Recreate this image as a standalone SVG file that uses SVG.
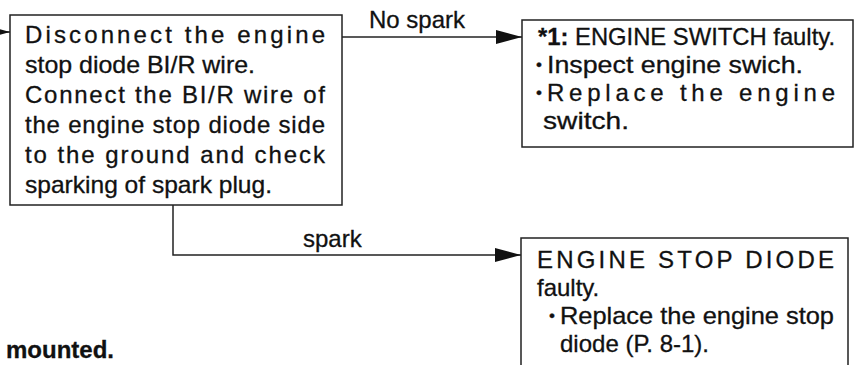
<svg xmlns="http://www.w3.org/2000/svg" width="855" height="365" viewBox="0 0 855 365">
<style>
.box{fill:#fff;stroke:#222;stroke-width:1.5}
.t{font-family:"Liberation Sans",Arial,sans-serif;font-size:24px;fill:#111;stroke:#111;stroke-width:0.3}
.b{font-weight:bold}
.dot{font-size:17px}
.ln{fill:none;stroke:#222;stroke-width:1.5}
</style>
<defs>
<marker id="ah" markerUnits="userSpaceOnUse" markerWidth="26" markerHeight="14" refX="26" refY="7" orient="auto">
<path d="M0,0 L26,7 L0,14 Z" fill="#111"/>
</marker>
</defs>
<rect width="855" height="365" fill="#fff"/>
<g id="connectors">
<line class="ln" x1="-10" y1="32" x2="10" y2="32" marker-end="url(#ah)"/>
<line class="ln" x1="342" y1="37" x2="522" y2="37" marker-end="url(#ah)"/>
<polyline class="ln" points="173,205 173,255 521,255" marker-end="url(#ah)"/>
<text class="t" x="369" y="28">No spark</text>
<text class="t" x="303" y="247">spark</text>
</g>
<g id="node-check">
<rect class="box" x="10" y="15" width="332" height="190"/>
<text class="t" x="25" y="43" textLength="300" lengthAdjust="spacing">Disconnect the engine</text>
<text class="t" x="25" y="73" textLength="230" lengthAdjust="spacingAndGlyphs">stop diode BI/R wire.</text>
<text class="t" x="25" y="103" textLength="300" lengthAdjust="spacing">Connect the BI/R wire of</text>
<text class="t" x="25" y="133" textLength="300" lengthAdjust="spacing">the engine stop diode side</text>
<text class="t" x="25" y="163" textLength="300" lengthAdjust="spacing">to the ground and check</text>
<text class="t" x="25" y="193" textLength="247" lengthAdjust="spacingAndGlyphs">sparking of spark plug.</text>
</g>
<g id="node-switch">
<rect class="box" x="522" y="20" width="331" height="127"/>
<text class="t" x="538" y="45" textLength="297" lengthAdjust="spacingAndGlyphs"><tspan class="b">*1:</tspan> ENGINE SWITCH faulty.</text>
<text class="t dot" x="536" y="70">•</text>
<text class="t" x="547" y="73" textLength="256" lengthAdjust="spacingAndGlyphs">Inspect engine swich.</text>
<text class="t dot" x="536" y="98">•</text>
<text class="t" x="547" y="101" textLength="288" lengthAdjust="spacing">Replace the engine</text>
<text class="t" x="543" y="129" textLength="86" lengthAdjust="spacingAndGlyphs">switch.</text>
</g>
<g id="node-diode">
<path class="box" d="M521,375 L521,238 L848,238 L848,375"/>
<text class="t" x="537" y="268" textLength="297" lengthAdjust="spacing">ENGINE STOP DIODE</text>
<text class="t" x="537" y="296">faulty.</text>
<text class="t dot" x="549" y="321">•</text>
<text class="t" x="560" y="324" textLength="274" lengthAdjust="spacingAndGlyphs">Replace the engine stop</text>
<text class="t" x="560" y="352">diode (P. 8-1).</text>
</g>
<text class="t b" x="6" y="358">mounted.</text>
</svg>
